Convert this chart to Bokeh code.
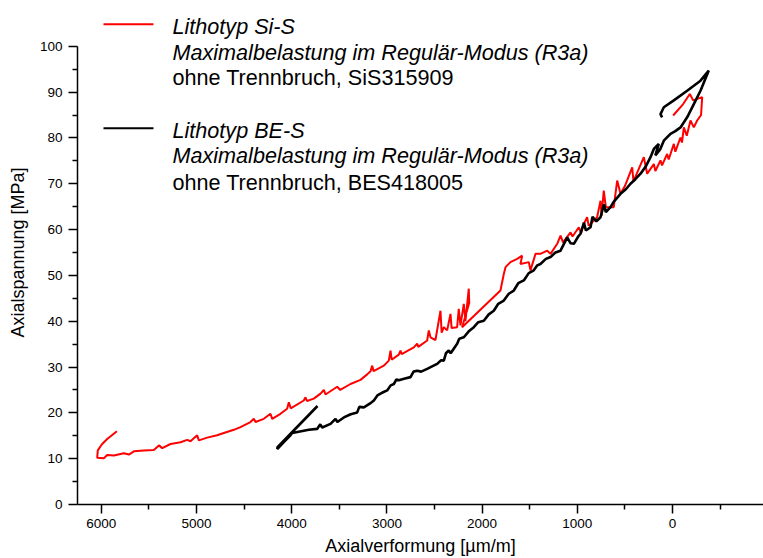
from bokeh.plotting import figure
from bokeh.models import Range1d, FixedTicker, Label
from bokeh.embed import file_html
from bokeh.resources import INLINE

# ---------------- data ----------------
# Lithotyp Si-S  (red)
si_x = [5836, 5938, 5991, 6037, 6043, 5973, 5938, 5868, 5763, 5710, 5658, 5553, 5448, 5395, 5360,
        5273, 5168, 5098, 5063, 4993, 4975, 4888, 4783, 4713, 4608, 4538, 4433, 4398, 4380, 4293,
        4223, 4205, 4118, 4048, 4030, 4010, 3873, 3855, 3840, 3768, 3697, 3662, 3645, 3558, 3522,
        3490, 3382, 3277, 3207, 3172, 3154, 3140, 3032, 2980, 2962, 2950, 2875, 2857, 2845, 2717,
        2682, 2670, 2577, 2560, 2542, 2490, 2437, 2425, 2402, 2367, 2332, 2320, 2262, 2245, 2227,
        2192, 2175, 2140, 2135, 2210, 1807, 1772, 1754, 1702, 1632, 1579, 1597, 1509, 1492, 1439,
        1387, 1316, 1281, 1211, 1176, 1150, 1071, 1050, 984, 960, 932, 897, 880, 792, 756, 745,
        722, 700, 617, 581, 546, 500, 423, 410, 301, 266, 196, 180, 126, 110, 56, 40, -14, -30,
        -84, -100, -119, -150, -189, -224, -259, -300, -312, -217, -182, -112, -7]
si_y = [16.0, 14.3, 13.2, 11.8, 10.2, 10.1, 10.8, 10.7, 11.2, 10.9, 11.6, 11.8, 11.9, 12.9, 12.3,
        13.2, 13.6, 14.1, 13.8, 15.1, 14.0, 14.6, 15.1, 15.6, 16.3, 16.9, 18.0, 18.7, 18.0, 18.7,
        19.8, 18.7, 19.8, 20.9, 22.3, 21.0, 22.7, 23.4, 22.6, 23.1, 24.2, 25.0, 24.0, 25.2, 25.7,
        25.0, 26.3, 27.2, 28.4, 29.1, 30.3, 29.1, 30.3, 31.4, 33.6, 31.6, 32.7, 33.6, 32.8, 34.3,
        35.1, 34.4, 35.8, 38.0, 36.5, 35.9, 42.3, 37.5, 38.7, 38.0, 41.6, 38.5, 38.7, 42.7, 39.1,
        43.8, 40.0, 47.1, 44.0, 38.7, 46.7, 50.3, 51.8, 52.9, 53.6, 54.3, 52.5, 52.9, 51.1, 54.7,
        54.7, 55.4, 54.7, 56.9, 58.7, 57.2, 59.4, 58.5, 60.5, 59.2, 61.2, 62.7, 60.8, 62.7, 66.3, 63.0,
        68.5, 64.9, 64.9, 70.7, 67.8, 69.5, 73.6, 70.5, 75.8, 72.2, 74.3, 72.8, 75.1, 74.0, 76.5, 75.3,
        78.7, 77.0, 80.1, 79.0, 82.3, 80.5, 83.8, 82.3, 83.8, 85.0, 88.9, 88.2, 89.6, 87.4, 84.9]

# Lithotyp BE-S  (black)
be_x = [3729, 4149, 4152, 4083, 4013, 3995, 3900, 3820, 3733, 3700, 3680, 3592, 3540, 3520, 3452,
        3380, 3312, 3290, 3242, 3180, 3137, 3100, 3067, 3040, 2997, 2960, 2927, 2900, 2875, 2810,
        2752, 2720, 2682, 2640, 2577, 2520, 2472, 2430, 2402, 2380, 2350, 2330, 2262, 2240, 2192,
        2140, 2087, 2040, 1982, 1930, 1877, 1830, 1772, 1720, 1667, 1620, 1562, 1510, 1457, 1420,
        1387, 1330, 1281, 1230, 1176, 1106, 1070, 1036, 990, 966, 930, 910, 861, 840, 800, 756,
        720, 700, 651, 620, 600, 546, 490, 441, 390, 336, 280, 231, 196, 144, 180, 130, 91, 21,
        -30, -84, -154, -224, -294, -381, -294, -154, -14, 91, 126, 109]
be_y = [21.5, 12.5, 12.1, 13.6, 15.1, 15.6, 16.0, 16.3, 16.5, 17.5, 16.8, 17.6, 18.7, 18.0, 19.0,
        19.7, 20.1, 21.3, 21.2, 22.0, 22.7, 23.8, 24.2, 24.5, 24.9, 26.0, 26.3, 27.3, 27.1, 27.5,
        27.8, 29.0, 29.2, 29.0, 29.6, 30.2, 30.7, 31.5, 31.4, 33.0, 33.6, 33.0, 35.1, 36.2, 36.5,
        37.8, 38.7, 39.8, 40.1, 41.5, 42.3, 43.8, 44.5, 46.0, 46.7, 48.3, 48.9, 50.5, 51.1, 52.2,
        52.5, 53.6, 54.0, 55.0, 55.4, 58.3, 57.0, 56.9, 58.5, 59.1, 61.5, 59.8, 60.5, 62.8, 61.8, 62.7,
        65.5, 63.8, 64.9, 66.0, 66.5, 67.8, 68.8, 70.0, 71.0, 72.2, 73.8, 75.8, 77.6, 78.7, 76.2, 77.5,
        79.4, 80.9, 81.5, 82.3, 84.5, 87.4, 90.3, 94.7, 92.5, 90.3, 88.2, 86.7, 85.2, 84.5]

x_ticks = [6000, 5000, 4000, 3000, 2000, 1000, 0]
x_minor = [5500, 4500, 3500, 2500, 1500, 500, -500]
y_ticks = [0, 10, 20, 30, 40, 50, 60, 70, 80, 90, 100]
y_minor = [5, 15, 25, 35, 45, 55, 65, 75, 85, 95]

legend_si = ["Lithotyp Si-S", "Maximalbelastung im Regulär-Modus (R3a)", "ohne Trennbruch, SiS315909"]
legend_be = ["Lithotyp BE-S", "Maximalbelastung im Regulär-Modus (R3a)", "ohne Trennbruch, BES418005"]

FONT = "Liberation Sans"

p = figure(width=763, height=558, output_backend="svg", toolbar_location=None,
           x_range=Range1d(6250, -956), y_range=Range1d(0, 110),
           min_border_left=77, min_border_right=0, min_border_top=0, min_border_bottom=54)
p.outline_line_color = None
p.background_fill_color = "white"
p.border_fill_color = "white"
p.xgrid.visible = False
p.ygrid.visible = False

p.line(si_x, si_y, line_color="#ff0000", line_width=2)
p.line(be_x, be_y, line_color="#000000", line_width=2.6)

for ax in (p.xaxis[0], p.yaxis[0]):
    ax.axis_line_width = 1.5
    ax.major_tick_line_width = 1.5
    ax.minor_tick_line_width = 1.5
    ax.major_tick_in = 0
    ax.major_tick_out = 9
    ax.minor_tick_in = 0
    ax.minor_tick_out = 5
    ax.major_label_text_font = FONT
    ax.major_label_text_font_size = "13.5px"
    ax.major_label_text_color = "black"
    ax.axis_label_text_font = FONT
    ax.axis_label_text_font_size = "18px"
    ax.axis_label_text_font_style = "normal"
    ax.axis_label_text_color = "black"

p.xaxis.ticker = FixedTicker(ticks=x_ticks, minor_ticks=x_minor)
p.yaxis.ticker = FixedTicker(ticks=y_ticks, minor_ticks=y_minor)
p.yaxis.bounds = (0, 100)
p.xaxis.axis_label = "Axialverformung [µm/m]"
p.yaxis.axis_label = "Axialspannung [MPa]"
p.xaxis.major_label_standoff = 5
p.yaxis.major_label_standoff = 6
p.xaxis.axis_label_standoff = 5
p.yaxis.axis_label_standoff = 9

# legend (drawn manually to allow mixed italic / upright rows)
p.line([5977, 5452], [104.8, 104.8], line_color="#ff0000", line_width=2)
p.line([5977, 5452], [82.1, 82.1], line_color="#000000", line_width=2)
tx = 5252
rows = [(legend_si[0], 104.4, "italic"), (legend_si[1], 98.6, "italic"), (legend_si[2], 93.2, "normal"),
        (legend_be[0], 81.6, "italic"), (legend_be[1], 76.1, "italic"), (legend_be[2], 70.3, "normal")]
for txt, yy, style in rows:
    p.add_layout(Label(x=tx, y=yy, text=txt, text_font=FONT, text_font_size="21.6px",
                       text_font_style=style, text_baseline="middle", text_align="left",
                       text_color="black"))

open("out.html", "w").write(file_html(p, INLINE))
